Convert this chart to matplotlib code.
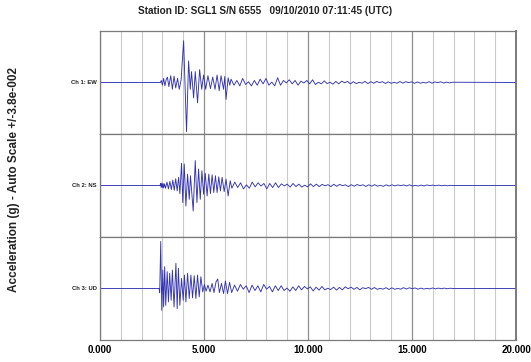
import numpy as np
import matplotlib
matplotlib.use("Agg")
import matplotlib.pyplot as plt

plt.rcParams["font.family"] = ["Liberation Sans", "DejaVu Sans"]
plt.rcParams["font.weight"] = "bold"

# Strong-motion extrema picks: time (s) and acceleration (milli-g)
ew_t = [0.0, 2.90, 2.95, 3.00, 3.06, 3.12, 3.18, 3.24, 3.31, 3.40, 3.48, 3.56,
        3.64, 3.73, 3.81, 3.90, 4.02, 4.16, 4.26, 4.34, 4.40, 4.50, 4.58, 4.69,
        4.79, 4.89, 4.98, 5.08, 5.19, 5.31, 5.42, 5.53, 5.63, 5.73, 5.82, 5.94,
        6.00, 6.06, 6.16, 6.24]
ew_a = [0, 0, 1.5, -2.0, 3.0, -2.5, 2.0, 4.0, -3.0, 5.0, -5.0, 4.7,
        -4.0, 3.0, -5.0, 2.0, 30.8, -36.2, 15.9, -5.0, 8.0, -11.4, 8.0, -15.0,
        9.5, -5.0, 5.5, -5.0, 5.0, -4.5, 4.0, -5.0, 5.5, -6.0, 5.0, -5.0,
        4.5, -12.5, 3.5, -2.0]

ns_t = [0.0, 2.89, 2.91, 2.94, 2.97, 3.00, 3.03, 3.06, 3.10, 3.15, 3.22, 3.29,
        3.36, 3.43, 3.50, 3.57, 3.64, 3.71, 3.78, 3.84, 3.92, 3.98, 4.05, 4.13,
        4.21, 4.29, 4.35, 4.48, 4.58, 4.66, 4.74, 4.82, 4.90, 4.98, 5.06, 5.15,
        5.23, 5.31, 5.39, 5.47, 5.55, 5.63, 5.71, 5.79, 5.87, 5.97, 6.06, 6.16,
        6.26]
ns_a = [0, 0, 1.5, -1.5, 1.8, -1.5, 1.5, -1.8, 1.2, -2.0, 2.5, -2.5,
        3.0, -3.0, 4.0, -3.5, 5.0, -4.0, 6.0, -6.0, 16.4, -12.6, 15.9, -15.1,
        8.4, -10.2, 7.2, -18.8, 18.4, -12.6, 12.2, -10.2, 10.9, -6.4, 8.9, -7.7,
        8.4, -6.0, 7.9, -5.2, 7.2, -5.2, 6.4, -4.0, 6.0, -4.5, 4.7, -7.7,
        3.5]

ud_t = [0.0, 2.84, 2.87, 2.92, 2.97, 3.02, 3.06, 3.11, 3.16, 3.23, 3.29, 3.35,
        3.42, 3.48, 3.56, 3.65, 3.71, 3.77, 3.84, 3.92, 4.00, 4.06, 4.13, 4.21,
        4.29, 4.37, 4.45, 4.53, 4.61, 4.69, 4.77, 4.85, 4.94, 5.02, 5.10, 5.19,
        5.29, 5.39, 5.48, 5.58, 5.66, 5.74, 5.84, 5.94, 6.03, 6.13, 6.23]
ud_a = [0, 0, -3.0, 34.7, -16.1, 13.6, -13.6, 16.1, -12.4, 12.4, -9.9, 11.2,
        -8.7, 13.6, -13.6, 18.6, -14.9, 14.9, -12.4, 7.4, -8.7, 9.9, -9.9, 11.2,
        -7.4, 9.9, -6.9, 9.4, -7.4, 9.9, -6.2, 8.7, -2.5, 3.0, -2.0, 2.5,
        -2.5, 3.7, -3.0, 5.0, 7.0, -3.0, 3.7, -3.7, 5.5, -3.7, 4.5]

# Coda extrema, picked every CODA_DT seconds after the strong motion
CODA_DT = 0.14
ew_coda_start = 6.30
ew_coda = [2.5, -2.0, 1.5, -2.5, 3.0, -1.5, 0.5, -2.5, 1.5, -2.0, 2.5, -1.0,
           3.0, -2.0, 0.3, -2.5, 3.5,
           -2.0, 1.5, -0.3, 2.0, -1.0, 1.5, -2.0, 1.0, -0.4, 1.5, -1.0, 2.0,
           -1.5, 0.2,
           -1.0, 1.2, -0.8, 0.2, -1.2, 0.8, -1.0, 1.0, -0.2, 0.8, -1.0, 0.6,
           -0.8, 0.1, -0.5, 0.8, -0.8, 0.6,
           -0.6, 0.8, -0.1, 0.6, -0.7, 0.5, -0.6, 0.1, -0.5, 0.7, -0.5, 0.6,
           -0.1, 0.5, -0.6, 0.4, -0.5, 0.1, -0.4, 0.6, -0.5, 0.4, -0.1, 0.5,
           -0.4, 0.3, -0.3, 0.2]
ns_coda_start = 6.34
ns_coda = [-2.0, 2.5, -1.5, 2.0, -2.5, 0.5, -2.0, 2.5, -1.0, 2.0, -0.4, 1.5,
           -2.5, 1.5, -1.5, 2.0, -1.5,
           1.2, -0.3, 1.0, -1.2, 1.5, -0.8, 1.0, -1.2, 0.2, -1.0, 1.2, -0.8,
           1.0, -0.8,
           0.8, -0.2, 0.6, -0.8, 0.9, -0.6, 0.8, -0.1, 0.5, -0.8, 0.6, -0.5,
           0.7, -0.1, 0.5, -0.7, 0.5, -0.5,
           0.6, -0.5, 0.1, -0.6, 0.5, -0.4, 0.5, -0.3, 0.4, -0.1, 0.4, -0.3,
           0.5, -0.4, 0.1, -0.4, 0.3, -0.3, 0.4, -0.1, 0.3, -0.2, 0.3, -0.2,
           0.2, -0.2, 0.1, 0.0]
ud_coda_start = 6.33
ud_coda = [-3.0, 2.5, -2.0, 3.0, -0.5, 2.0, -3.0, 2.5, -1.5, 2.0, -2.5, 3.0,
           -0.5, 1.5, -2.5, 2.0, -1.5,
           2.0, -1.5, 0.3, -2.0, 1.2, -1.5, 2.0, -1.0, 1.5, -0.3, 1.2, -1.8,
           1.0, -1.2,
           1.5, -1.0, 0.2, -0.8, 1.0, -1.2, 0.8, -1.0, 1.2, -0.2, 1.0, -0.6,
           0.8, -1.0, 0.6, -0.1, 0.8, -0.6,
           0.7, -0.6, 0.1, -0.5, 0.6, -0.7, 0.5, -0.6, 0.1, -0.5, 0.6, -0.4,
           0.5, -0.1, 0.4, -0.5, 0.3, -0.4, 0.1, -0.3, 0.4, -0.3, 0.3, -0.2,
           0.3, -0.2, 0.2, 0.0]

record_end = 20.0
full_scale = 38.0  # milli-g, auto scale +/-3.8e-002 g

channels = ["Ch 1: EW", "Ch 2: NS", "Ch 3: UD"]
x_ticks = [0, 5, 10, 15, 20]
x_tick_labels = ["0.000", "5.000", "10.000", "15.000", "20.000"]
title = "Station ID: SGL1 S/N 6555   09/10/2010 07:11:45 (UTC)"
y_label = "Acceleration (g) - Auto Scale +/-3.8e-002"


def build_trace(t_pick, a_pick, coda_start, coda):
    t_coda = coda_start + CODA_DT * np.arange(len(coda))
    t = np.concatenate([t_pick, t_coda, [record_end]])
    a = np.concatenate([a_pick, coda, [0.0]])
    return t, a


traces = [build_trace(ew_t, ew_a, ew_coda_start, ew_coda),
          build_trace(ns_t, ns_a, ns_coda_start, ns_coda),
          build_trace(ud_t, ud_a, ud_coda_start, ud_coda)]

W, H = 531, 362
fig = plt.figure(figsize=(W / 100, H / 100), dpi=100)
fig.patch.set_facecolor("white")

left_px, right_px, top_px, bottom_px = 100, 516, 31, 340
panel_h = (bottom_px - top_px) / 3
trace_color = "#3434b2"

for i, (label, (t, a)) in enumerate(zip(channels, traces)):
    y0 = H - (top_px + (i + 1) * panel_h)
    ax = fig.add_axes([left_px / W, y0 / H, (right_px - left_px) / W, panel_h / H])
    ax.plot(t, a, color=trace_color, lw=0.65, solid_joinstyle="round")
    ax.set_xlim(0, record_end)
    ax.set_ylim(-full_scale, full_scale)
    ax.set_xticks(x_ticks)
    ax.set_xticks(np.arange(0, 21, 1), minor=True)
    ax.set_yticks([])
    ax.grid(which="minor", axis="x", color="#cacaca", lw=0.8)
    ax.grid(which="major", axis="x", color="#8f8f8f", lw=0.9)
    ax.tick_params(which="both", length=0)
    for side, sp in ax.spines.items():
        sp.set_color("#7a7a7a")
        sp.set_linewidth(0.9)
    ax.spines["right"].set_linewidth(1.4)
    ax.set_axisbelow(True)
    if i < 2:
        ax.set_xticklabels([])
    else:
        ax.set_xticklabels(x_tick_labels, fontsize=7, fontweight="bold")
        ax.tick_params(axis="x", pad=3.5)
    ax.annotate(label, xy=(0, 0.5), xycoords="axes fraction", xytext=(-2.5, 0),
                textcoords="offset points", ha="right", va="center",
                fontsize=4.2, fontweight="bold", color="#222222")

fig.text(265 / W, 1 - 11 / H, title, ha="center", va="center",
         fontsize=7.2, fontweight="bold", color="#222222")
fig.text(14 / W, 1 - 179 / H, y_label, rotation=90, ha="center", va="center",
         fontsize=8.5, fontweight="bold", color="#222222")

fig.savefig("out.png", dpi=100, facecolor="white")
